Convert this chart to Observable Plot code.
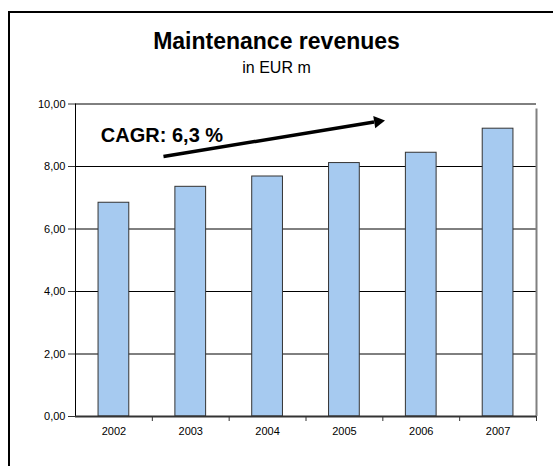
<!DOCTYPE html>
<html>
<head>
<meta charset="utf-8">
<script src="https://cdn.jsdelivr.net/npm/d3@7"></script>
<script src="https://cdn.jsdelivr.net/npm/@observablehq/plot@0.6"></script>
<style>
  html, body { margin: 0; padding: 0; background: #fff; }
  #page { position: relative; width: 553px; height: 466px; overflow: hidden; font-family: "Liberation Sans", Arial, sans-serif; }
  #frame { position: absolute; left: 8px; top: 11px; width: 600px; height: 500px; border-top: 2px solid #000; border-left: 2px solid #000; }
  #title { position: absolute; left: 0; width: 553px; top: 28px; text-align: center; font-size: 23px; font-weight: bold; color: #000; line-height: 26px; }
  #subtitle { position: absolute; left: 0; width: 553px; top: 58px; text-align: center; font-size: 16px; color: #000; line-height: 20px; }
  #chart { position: absolute; left: 0; top: 85px; }
</style>
</head>
<body>
<div id="page">
  <div id="frame"></div>
  <div id="title">Maintenance revenues</div>
  <div id="subtitle">in EUR m</div>
  <div id="chart"></div>
</div>
<script>
const years = [2002, 2003, 2004, 2005, 2006, 2007];
const revenues = [6.84, 7.35, 7.68, 8.11, 8.44, 9.21];
const yTicks = [0, 2, 4, 6, 8, 10];
const cagrLabel = "CAGR: 6,3 %";
// annotation arrow in data units (year, EUR m)
const arrowFrom = [2002.645, 8.32];
const arrowTo = [2005.5, 9.47];
const labelAt = [2001.83, 8.78];

const data = years.map((y, i) => ({year: y, value: revenues[i]}));
const bounds = d3.range(years[0] - 0.5, years[years.length - 1] + 1, 1);
const halfBar = 0.2;
// shaft stops a little short of the tip so the filled head sits on it
const shaftEnd = [arrowFrom[0] + (arrowTo[0] - arrowFrom[0]) * 0.96, arrowFrom[1] + (arrowTo[1] - arrowFrom[1]) * 0.96];

const chart = Plot.plot({
  width: 553,
  height: 381,
  marginLeft: 75,
  marginRight: 17,
  marginTop: 18.5,
  marginBottom: 50,
  style: {fontFamily: "Liberation Sans, Arial, sans-serif", background: "transparent", overflow: "visible"},
  x: {domain: [years[0] - 0.5, years[years.length - 1] + 0.5]},
  y: {domain: [0, 10]},
  marks: [
    Plot.ruleY(yTicks.filter(t => t > 0), {stroke: "#000", strokeWidth: 1}),
    Plot.rectY(data, {
      x1: d => d.year - halfBar,
      x2: d => d.year + halfBar,
      y1: 0,
      y2: "value",
      fill: "#a6caf0",
      stroke: "#333",
      strokeWidth: 1
    }),
    Plot.ruleX([years[0] - 0.5], {stroke: "#000", strokeWidth: 1}),
    Plot.ruleX([years[years.length - 1] + 0.5], {y1: 0, y2: 10, insetBottom: -5, stroke: "#808080", strokeWidth: 2}),
    Plot.ruleY([0], {stroke: "#333", strokeWidth: 2}),
    Plot.axisY({
      ticks: yTicks,
      tickSize: 7,
      tickPadding: 3,
      fontSize: 11,
      tickFormat: d => d.toFixed(2).replace(".", ","),
      label: null,
      stroke: "#333"
    }),
    Plot.axisX({
      ticks: bounds.slice(1),
      tickSize: 5,
      tickFormat: () => "",
      label: null,
      stroke: "#333"
    }),
    Plot.axisX({
      ticks: years,
      tickSize: 0,
      tickPadding: 11,
      fontSize: 11,
      tickFormat: d => String(d),
      label: null
    }),
    Plot.link([{x1: arrowFrom[0], y1: arrowFrom[1], x2: shaftEnd[0], y2: shaftEnd[1]}], {
      x1: "x1", y1: "y1", x2: "x2", y2: "y2",
      stroke: "#000",
      strokeWidth: 3.5
    }),
    Plot.dot([{x: arrowTo[0], y: arrowTo[1]}], {
      x: "x", y: "y",
      symbol: "triangle2",
      r: 6,
      rotate: 81,
      fill: "#000",
      stroke: "none",
      dx: -5,
      dy: 1
    }),
    Plot.text([{x: labelAt[0], y: labelAt[1], t: cagrLabel}], {
      x: "x", y: "y", text: "t",
      textAnchor: "start",
      lineAnchor: "bottom",
      fontSize: 20,
      fontWeight: "bold",
      fill: "#000"
    })
  ]
});
document.getElementById("chart").appendChild(chart);
</script>
</body>
</html>
